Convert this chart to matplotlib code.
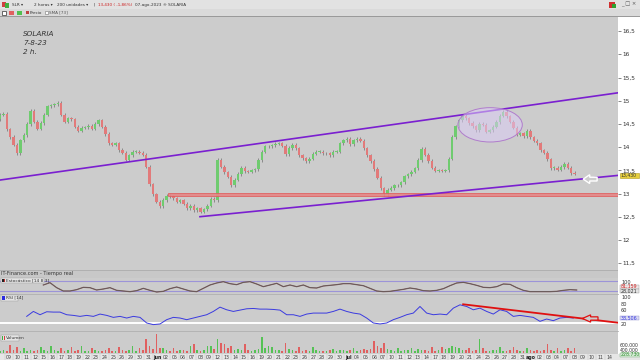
import numpy as np
import matplotlib
matplotlib.use('Agg')
import matplotlib.pyplot as plt
from matplotlib.patches import Rectangle, Ellipse, FancyArrow

# ---- data (2h bars, SOLARIA) ----
closes = [
    14.70, 14.72, 14.38, 14.22, 14.05, 13.87, 14.15, 14.26, 14.50, 14.78,
    14.55, 14.40, 14.52, 14.70, 14.88, 14.90, 14.92, 14.95, 14.70, 14.55,
    14.62, 14.60, 14.44, 14.35, 14.42, 14.43, 14.46, 14.40, 14.50, 14.58,
    14.44, 14.28, 14.08, 14.05, 14.08, 13.94, 13.88, 13.73, 13.82, 13.90,
    13.90, 13.88, 13.84, 13.58, 13.20, 12.98, 12.82, 12.72, 12.86, 12.95,
    12.94, 12.90, 12.82, 12.85, 12.78, 12.69, 12.74, 12.64, 12.68, 12.61,
    12.66, 12.74, 12.88, 12.85, 13.72, 13.58, 13.46, 13.36, 13.18, 13.30,
    13.42, 13.55, 13.48, 13.47, 13.50, 13.52, 13.72, 13.90, 14.02, 14.02,
    14.04, 14.07, 14.08, 14.03, 13.85, 13.98, 14.05, 13.97, 13.82, 13.76,
    13.70, 13.75, 13.86, 13.90, 13.90, 13.87, 13.87, 13.83, 13.90, 13.90,
    14.08, 14.15, 14.18, 14.06, 14.15, 14.18, 14.14, 13.97, 13.82, 13.70,
    13.53, 13.34, 13.11, 12.99, 13.08, 13.12, 13.18, 13.18, 13.24, 13.37,
    13.41, 13.47, 13.54, 13.72, 13.96, 13.84, 13.70, 13.56, 13.49, 13.50,
    13.49, 13.50, 13.75, 14.22, 14.45, 14.58, 14.68, 14.62, 14.52, 14.45,
    14.37, 14.50, 14.48, 14.33, 14.36, 14.44, 14.54, 14.68, 14.76, 14.66,
    14.55, 14.42, 14.27, 14.30, 14.24, 14.35, 14.21, 14.14, 14.08, 13.93,
    13.88, 13.74, 13.55, 13.55, 13.51, 13.57, 13.64, 13.56, 13.44, 13.43,
]
first_open = 14.60

volumes = [  # thousands
    80, 110, 70, 250, 90, 190, 60, 170, 80, 100,
    70, 90, 190, 110, 80, 220, 90, 60, 170, 80,
    100, 190, 70, 90, 220, 60, 80, 170, 90, 60,
    70, 100, 170, 80, 60, 190, 90, 70, 110, 220,
    80, 170, 100, 420, 220, 130, 570, 150, 170, 90,
    80, 170, 70, 90, 110, 80, 220, 270, 100, 70,
    90, 220, 220, 120, 420, 320, 290, 150, 220, 90,
    120, 100, 290, 110, 80, 100, 130, 490, 150, 220,
    190, 90, 110, 80, 300, 120, 90, 70, 190, 80,
    100, 70, 190, 90, 60, 80, 70, 90, 120, 80,
    110, 90, 70, 100, 150, 80, 90, 120, 100, 140,
    370, 220, 160, 320, 130, 90, 80, 170, 70, 90,
    100, 150, 80, 130, 110, 90, 70, 190, 80, 100,
    190, 130, 150, 220, 190, 170, 110, 90, 170, 80,
    100, 420, 150, 80, 70, 90, 110, 190, 80, 70,
    90, 190, 100, 70, 80, 150, 90, 70, 100, 80,
    110, 270, 90, 70, 150, 80, 90, 170, 70, 150,
]

stoch = [
    54, 68, 38, 18, 18, 26, 40, 38, 24, 30, 38, 22, 18, 14, 20, 34, 22, 12, 16, 32,
    42, 30, 18, 14, 34, 54, 66, 74, 62, 56, 70, 74, 60, 44, 54, 64, 44, 54, 44, 54,
    38, 36, 48, 52, 56, 62, 62, 56, 50, 34, 18, 14, 16, 22, 28, 36, 30, 20, 18, 22,
    32, 50, 66, 70, 62, 52, 40, 38, 44, 60, 58, 38, 22, 14, 14, 14, 14, 16, 22, 26,
    24,
]

rsi = [
    44, 59, 49, 58, 57, 57, 49, 47, 44, 47, 44, 51, 47, 41, 44, 39, 44, 41, 24, 19,
    21, 34, 41, 39, 34, 39, 44, 49, 59, 72, 64, 59, 63, 67, 68, 66, 66, 65, 63, 49,
    49, 44, 51, 54, 54, 54, 59, 66, 59, 54, 51, 39, 24, 21, 24, 34, 41, 49, 54, 74,
    54, 49, 51, 49, 69, 79, 74, 64, 69, 59, 51, 64, 59, 44, 47, 44, 41, 29, 36, 31,
    39, 41, 39,
]

date_labels = ["09", "10", "11", "12", "15", "16", "17", "18", "19", "22", "23", "24",
               "25", "26", "29", "30", "31", "jun", "02", "05", "06", "07", "08", "09",
               "12", "13", "14", "15", "16", "19", "20", "21", "22", "23", "26", "27",
               "28", "29", "30", "jul", "04", "05", "06", "07", "10", "11", "12", "13",
               "14", "17", "18", "19", "20", "21", "24", "25", "26", "27", "28", "31",
               "ago", "02", "03", "04", "07", "08", "09", "10", "11", "14"]
months = ["jun", "jul", "ago"]

price_ticks = [16.5, 16, 15.5, 15, 14.5, 14, 13.5, 13, 12.5, 12, 11.5]
price_tick_labels = ["16,5", "16", "15,5", "15", "14,5", "14", "13,5", "13", "12,5", "12", "11,5"]

# drawn objects (day index, price)
upper_channel = [(-1.03, 13.29), (70.0, 15.17)]
lower_channel = [(21.95, 12.50), (70.0, 13.39)]
support_band = (18.3, 12.94, 13.02)
ellipse_zone = (55.3, 14.48, 7.4, 0.74)
rsi_trend = [(52.2, 80.6), (70.0, 24.8)]
rsi_floor = 23
stoch_levels = [80, 20]

W, H = 640, 360
PXD = 8.7          # pixels per trading day
DAY0 = 9           # pixel of first labelled day
GRAY = '#cccccc'

fig = plt.figure(figsize=(6.4, 3.6), dpi=100, facecolor='white')


def fx(x):
    return x / W


def fy(y):
    return 1 - y / H


def px_axes(x0, y0, x1, y1):
    a = fig.add_axes([fx(x0), fy(y1), (x1 - x0) / W, (y1 - y0) / H])
    a.set_facecolor(GRAY)
    for s in a.spines.values():
        s.set_visible(False)
    a.set_xticks([])
    a.set_yticks([])
    a.set_xlim(-DAY0 / PXD, (618 - DAY0) / PXD)
    return a


def box(x0, y0, x1, y1, fc, ec='none', lw=0.5):
    fig.patches.append(Rectangle((fx(x0), fy(y1)), (x1 - x0) / W, (y1 - y0) / H,
                                 transform=fig.transFigure, facecolor=fc,
                                 edgecolor=ec, linewidth=lw))


def label(x, y, s, size=4.0, color='#333333', **kw):
    fig.text(fx(x), fy(y), s, fontsize=size, color=color, va='center', **kw)


# ---- toolbars ----
box(0, 0, 640, 9, '#e2e2e2')
box(0, 9, 640, 17, '#dadada')
box(0, 16.4, 640, 17, '#9a9a9a')
box(2, 2, 6, 7, '#d04040')
box(5, 3, 9, 8, '#40b040')
label(12, 4.7, "SLR ▾", 3.0)
label(34, 4.7, "2 horas ▾", 3.0)
label(57, 4.7, "200 unidades ▾", 3.0)
label(93, 4.7, "|", 3.0)
label(98, 4.7, "13,430 ( -1,86%)", 3.0, color='#cc2020')
label(135, 4.7, "07-ago-2023 ® SOLARIA", 3.0)
label(621, 4.7, "_ □ ×", 3.8, color='#555555')
box(609, 2, 615, 8, '#d03030')
box(612, 4, 616, 8, '#30a030')
box(2, 10.5, 6, 14.5, 'white', '#333333', 0.5)
box(9, 10.5, 14, 14.5, '#e06060')
box(17, 10.5, 22, 14.5, '#50c050')
box(26, 10.8, 29, 14.2, '#c04040')
label(29.5, 12.7, "Precio", 3.0)
box(45, 10.8, 48, 14.2, 'white', '#777777', 0.4)
label(49, 12.7, "SMA [73]", 3.0, color='#555555')

# ---- main price panel ----
ax = px_axes(0, 17, 618, 270)
ax.set_ylim(15 - (270 - 100.7) / 46.4, 15 + (100.7 - 17) / 46.4)

x = np.linspace(-DAY0 / PXD, (574.6 - DAY0) / PXD, len(closes))
c = np.array(closes)
o = np.concatenate([[first_open], c[:-1]])
up = c >= o
lo = np.minimum(o, c)
hi = np.maximum(o, c)
ax.vlines(x, lo - 0.035, hi + 0.035, color='#707070', lw=0.5, zorder=2)
ax.bar(x, np.maximum(hi - lo, 0.012), bottom=lo, width=0.27,
       color=np.where(up, '#6fcb6f', '#e27a7a'), edgecolor='none', zorder=3)

ax.add_patch(Rectangle((support_band[0], support_band[1]),
                       (618 - DAY0) / PXD - support_band[0] + 1,
                       support_band[2] - support_band[1],
                       facecolor='#e58585', edgecolor='#e05a5a', lw=0.6,
                       alpha=0.9, zorder=4))
for line in (upper_channel, lower_channel):
    ax.plot([p[0] for p in line], [p[1] for p in line], color='#7a1fd0', lw=1.2, zorder=5)
ax.add_patch(Ellipse(ellipse_zone[:2], ellipse_zone[2], ellipse_zone[3],
                     facecolor=(0.86, 0.8, 0.96, 0.55), edgecolor='#b07ccc',
                     lw=0.7, zorder=6))
ax.add_patch(FancyArrow(67.6, 13.31, -1.6, 0, width=0.08, head_width=0.19,
                        head_length=0.75, length_includes_head=True,
                        facecolor=GRAY, edgecolor='white', lw=1.0, zorder=7))

ax.yaxis.tick_right()
ax.set_yticks(price_ticks)
ax.set_yticklabels(price_tick_labels)
ax.tick_params(axis='y', length=2, width=0.5, pad=1.5, labelsize=4.2,
               colors='#555555', labelcolor='#333333')

for i, s in enumerate(["SOLARIA", "7-8-23", "2 h."]):
    label(23, 34 + 9 * i, s, 5.2, style='italic')

box(619.5, 173, 638.5, 178, '#e6cf3c', '#b09a20', 0.4)
label(620.5, 175.5, "13,430", 3.3, color='#333333')

# ---- panel strip ----
box(0, 270, 618, 278, '#c8c8c8')
box(0, 270, 618, 270.6, '#b0b0b0')
label(1, 274, "IT-Finance.com - Tiempo real", 3.6)

# ---- stochastic ----
axs = px_axes(0, 278, 618, 294)
axs.set_ylim(0, 96)
for lv in stoch_levels:
    axs.axhline(lv, color='#9c94d8', lw=0.8)
xs = np.linspace((43.3 - DAY0) / PXD, (576.7 - DAY0) / PXD, len(stoch))
axs.plot(xs, stoch, color='#8a6464', lw=0.9)
axs.plot(xs, stoch, color='#555555', lw=0.4)
box(1, 277.5, 44, 283, '#e4e4e4', '#999999', 0.3)
box(2, 278.5, 4.5, 282, '#222222')
box(3.5, 278.5, 5, 282, '#c03030')
label(6, 280.3, "Estocástico [14 8 3]", 3.2)
label(621, 282, "100", 3.6)
box(619.5, 284.5, 638.5, 288.5, '#efe6e6', '#999999', 0.3)
label(620.5, 286.5, "81,159", 3.4, color='#cc2020')
box(619.5, 288.8, 638.5, 292.8, '#e4e4e4', '#999999', 0.3)
label(620.5, 290.8, "28,021", 3.4, color='#333333')

# ---- RSI ----
axr = px_axes(0, 294, 618, 331)
axr.set_ylim(-0.3, 111.8)
axr.spines['top'].set_visible(True)
axr.spines['top'].set_color('#b0b0b0')
axr.spines['top'].set_linewidth(0.6)
axr.axhline(rsi_floor, color='white', lw=1.4)
xr = np.linspace((26.7 - DAY0) / PXD, (573.3 - DAY0) / PXD, len(rsi))
axr.plot(xr, rsi, color='#3a3ae0', lw=0.7)
axr.plot([p[0] for p in rsi_trend], [p[1] for p in rsi_trend], color='#e01010', lw=1.3)
axr.add_patch(FancyArrow(67.7, 37.6, -1.8, 0, width=10, head_width=22,
                         head_length=0.95, length_includes_head=True,
                         facecolor=GRAY, edgecolor='#e01010', lw=0.9, zorder=6))
box(1, 295, 18, 300.5, '#e4e4e4', '#999999', 0.3)
box(2, 296, 4.5, 299.5, '#2a2ae0')
label(6, 297.8, "RSI [14]", 3.2)
for yy, s in [(297.7, "100"), (304.3, "80"), (311, "60"), (324.3, "20")]:
    label(621, yy, s, 3.6)
box(619.5, 316, 638.5, 320.3, '#dcdcf2', '#8888cc', 0.3)
label(620.5, 318.2, "38,506", 3.4, color='#3a3ae0')

# ---- volume ----
axv = px_axes(0, 331, 618, 354)
axv.set_ylim(-21, 669)
axv.spines['top'].set_visible(True)
axv.spines['top'].set_color('#b0b0b0')
axv.spines['top'].set_linewidth(0.6)
axv.bar(x, volumes, width=0.17, color=np.where(up, '#55c255', '#e06060'))
box(1, 335, 19, 340.5, '#e4e4e4', '#999999', 0.3)
box(2, 336, 3.5, 339.5, '#40b040')
box(3.5, 336, 5, 339.5, '#d04040')
label(6, 337.8, "Volumen", 3.2)
label(620, 345.7, "600.000", 3.3)
label(620, 350.7, "400.000", 3.3)
box(619.5, 352.6, 639.5, 357.4, '#d8ecd8', '#77aa77', 0.3)
label(620.3, 355, "228.730", 3.3, color='#2a8a2a')

# ---- date row ----
axd = fig.add_axes([0, fy(360), 1, 6 / H])
axd.set_facecolor('#e6e6e6')
axd.set_xlim(-DAY0 / PXD, (W - DAY0) / PXD)
axd.set_ylim(0, 1)
axd.set_xticks([])
axd.set_yticks([])
for s in axd.spines.values():
    s.set_visible(False)
for i, s in enumerate(date_labels):
    axd.text(i, 0.45, s, ha='center', va='center', fontsize=3.4,
             color='#222222' if s in months else '#444444',
             fontweight='bold' if s in months else 'normal')
    axd.vlines(i - 0.5, 0, 1, color='#bbbbbb', lw=0.3)

fig.savefig('out.png', dpi=100, facecolor='white')
